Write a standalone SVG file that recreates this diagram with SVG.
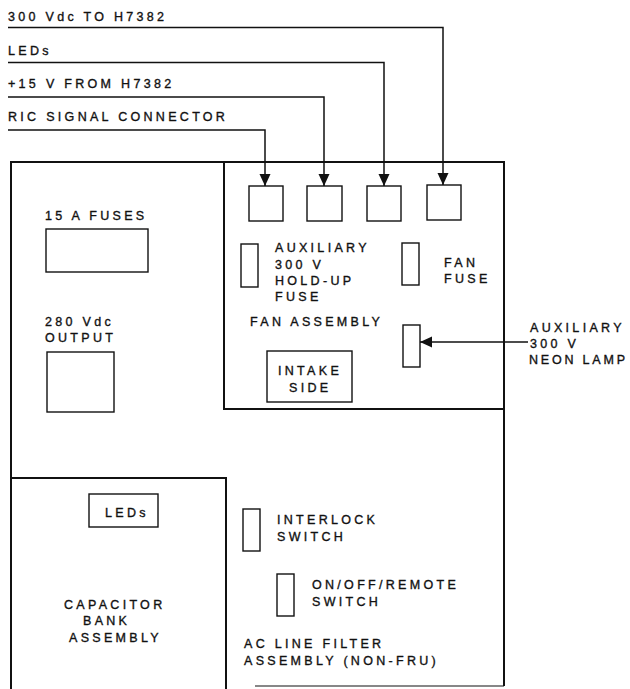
<svg xmlns="http://www.w3.org/2000/svg" width="630" height="689" viewBox="0 0 630 689">
<style>
  text { font-family: "Liberation Sans", Arial, Helvetica, sans-serif; font-size: 12.5px; letter-spacing: 3.3px; fill: #111; stroke: #111; stroke-width: 0.35; }
  .tight { letter-spacing: 2.8px; }
  .frame { fill: none; stroke: #111; stroke-width: 2; }
  .part { fill: #fff; stroke: #111; stroke-width: 1.4; }
  .conn { fill: none; stroke: #111; stroke-width: 1.5; }
</style>
<defs>
  <marker id="arrow" markerUnits="userSpaceOnUse" markerWidth="12" markerHeight="12" viewBox="0 0 12 12" refX="12" refY="6" orient="auto">
    <path d="M0,0.5 L12,6 L0,11.5 Z" fill="#111"/>
  </marker>
</defs>
<rect width="630" height="689" fill="#fff"/>

<g id="enclosure">
  <path class="frame" d="M11,689 V162 H504 V686"/>
  <line x1="255" y1="686" x2="504" y2="686" stroke="#111" stroke-width="1.2"/>
</g>

<g id="fan-assembly">
  <path class="frame" d="M224,162 V409 H504"/>
  <text x="250" y="326">FAN ASSEMBLY</text>
</g>

<g id="connector-1"><rect class="part" x="249" y="186" width="34" height="35"/></g>
<g id="connector-2"><rect class="part" x="307" y="186" width="35" height="35"/></g>
<g id="connector-3"><rect class="part" x="367" y="186" width="34" height="35"/></g>
<g id="connector-4"><rect class="part" x="427" y="185" width="34" height="35"/></g>

<g id="holdup-fuse">
  <rect class="part" x="241" y="244" width="17" height="43"/>
  <text x="275" y="252">AUXILIARY</text>
  <text x="275" y="268.5">300 V</text>
  <text x="275" y="285">HOLD-UP</text>
  <text x="275" y="301">FUSE</text>
</g>

<g id="fan-fuse">
  <rect class="part" x="402" y="243" width="17" height="42"/>
  <text x="444" y="267">FAN</text>
  <text x="444" y="283">FUSE</text>
</g>

<g id="neon-lamp">
  <rect class="part" x="403" y="325" width="17" height="42"/>
  <text x="530" y="332">AUXILIARY</text>
  <text x="530" y="348">300 V</text>
  <text class="tight" x="529" y="364">NEON LAMP</text>
</g>

<g id="intake-side">
  <rect class="part" x="267" y="351" width="85" height="51"/>
  <text x="278" y="375">INTAKE</text>
  <text x="289" y="391.5">SIDE</text>
</g>

<g id="fuses-15a">
  <text x="45" y="220">15 A FUSES</text>
  <rect class="part" x="46" y="229" width="102" height="43"/>
</g>

<g id="output-280vdc">
  <text x="45" y="326">280 Vdc</text>
  <text x="45" y="342">OUTPUT</text>
  <rect class="part" x="47" y="352" width="67" height="60"/>
</g>

<g id="capacitor-bank">
  <path class="frame" d="M11,478 H226 V689"/>
  <rect class="part" x="89" y="494" width="69" height="33"/>
  <text x="105" y="517">LEDs</text>
  <text x="64" y="609">CAPACITOR</text>
  <text x="83" y="625">BANK</text>
  <text x="69" y="642">ASSEMBLY</text>
</g>

<g id="interlock-switch">
  <rect class="part" x="243" y="509" width="17" height="42"/>
  <text x="277" y="524">INTERLOCK</text>
  <text x="277" y="541">SWITCH</text>
</g>

<g id="onoff-switch">
  <rect class="part" x="277" y="574" width="17" height="42"/>
  <text x="312" y="589">ON/OFF/REMOTE</text>
  <text x="312" y="606">SWITCH</text>
</g>

<g id="ac-line-filter">
  <text x="244" y="648">AC LINE FILTER</text>
  <text x="244" y="665">ASSEMBLY (NON-FRU)</text>
</g>

<g id="labels">
  <text x="8" y="21">300 Vdc TO H7382</text>
  <text x="8" y="55">LEDs</text>
  <text x="8" y="88">+15 V FROM H7382</text>
  <text x="8" y="121">RIC SIGNAL CONNECTOR</text>
</g>

<g id="connectors">
  <path class="conn" d="M8,27.5 H443 V185" marker-end="url(#arrow)"/>
  <path class="conn" d="M8,62.5 H384 V186" marker-end="url(#arrow)"/>
  <path class="conn" d="M8,97 H324 V186" marker-end="url(#arrow)"/>
  <path class="conn" d="M8,130 H265 V186" marker-end="url(#arrow)"/>
  <path class="conn" d="M528,342 H420" marker-end="url(#arrow)"/>
</g>
</svg>
